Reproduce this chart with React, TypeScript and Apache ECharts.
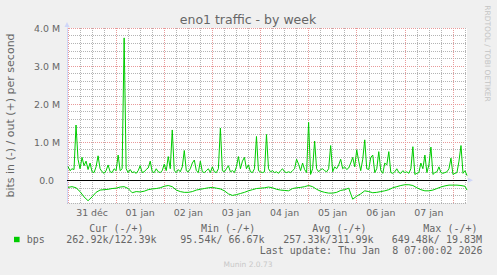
import React, { useEffect, useRef } from "react";
import * as echarts from "echarts";

// Day labels shown at noon of each day
const DAY_LABELS = ["31 déc", "01 jan", "02 jan", "03 jan", "04 jan", "05 jan", "06 jan", "07 jan"];

// Out (+) traffic in Mbit/s, hourly samples from 31 déc 00:00 to 08 jan 07:00
const OUT_MBPS = [
  0.36, 0.25, 0.3, 0.28, 1.45, 0.55, 0.3, 0.6, 0.38, 0.5,
  0.28, 0.45, 0.22, 0.2, 0.35, 0.64, 0.3, 0.22, 0.18, 0.25,
  0.4, 0.22, 0.2, 0.3, 0.25, 0.66, 0.25, 0.3, 3.74, 0.3,
  0.2, 0.28, 0.2, 0.22, 0.18, 0.25, 0.38, 0.2, 0.22, 0.28,
  0.32, 0.5, 0.22, 0.2, 0.3, 0.22, 0.2, 0.25, 0.42, 0.25,
  0.62, 0.3, 1.32, 0.25, 0.2, 0.28, 0.22, 0.35, 0.78, 0.25,
  0.22, 0.3, 0.45, 0.53, 0.25, 0.2, 0.5, 0.22, 0.2, 0.25,
  0.3, 0.2, 0.35, 0.22, 0.2, 0.3, 1.37, 0.25, 0.22, 0.3,
  0.38, 0.22, 0.25, 0.2, 0.35, 0.62, 0.3, 0.5, 0.6, 0.3,
  0.4, 0.22, 0.2, 0.3, 1.15, 0.25, 0.22, 0.2, 0.22, 1.2,
  0.3, 0.22, 0.25, 0.2, 0.22, 0.18, 0.25, 0.3, 0.22, 0.2,
  0.22, 0.2, 0.25, 0.3, 0.55, 0.42, 0.25, 0.45, 0.28, 0.2,
  1.52, 0.15, 0.3, 1.03, 0.3, 0.22, 0.28, 0.3, 0.25, 0.22,
  0.3, 0.91, 0.22, 0.35, 0.3, 0.4, 0.55, 0.3, 0.35, 0.28,
  0.32, 0.45, 0.6, 0.35, 0.8, 0.5, 0.25, 0.55, 1.06, 0.3,
  0.28, 0.6, 0.66, 0.2, 0.3, 0.75, 0.25, 0.18, 0.45, 0.4,
  0.75, 0.2, 0.18, 0.22, 0.3, 0.2, 0.18, 0.25, 0.2, 0.22,
  0.18, 0.3, 0.88, 0.15, 0.18, 0.2, 0.45, 0.3, 0.66, 0.2,
  0.4, 0.87, 0.15, 0.2, 0.22, 0.35, 0.2, 0.18, 0.2, 0.22,
  0.3, 0.58, 0.15, 0.18, 0.2, 0.5, 0.91, 0.18, 0.25, 0.12,
];

// In (-) traffic in Mbit/s, every 2 hours from 31 déc 00:00
const IN_MBPS = [
  0.19, 0.17, 0.2, 0.3, 0.44, 0.54, 0.44, 0.32, 0.26, 0.25,
  0.24, 0.22, 0.21, 0.18, 0.17, 0.22, 0.33, 0.3, 0.31, 0.29,
  0.25, 0.23, 0.22, 0.2, 0.16, 0.14, 0.17, 0.26, 0.3, 0.32,
  0.32, 0.3, 0.26, 0.24, 0.22, 0.2, 0.19, 0.21, 0.23, 0.28,
  0.36, 0.4, 0.38, 0.35, 0.32, 0.28, 0.25, 0.22, 0.21, 0.2,
  0.18, 0.2, 0.24, 0.26, 0.27, 0.28, 0.22, 0.2, 0.19, 0.17,
  0.14, 0.17, 0.24, 0.29, 0.32, 0.34, 0.34, 0.32, 0.27, 0.25,
  0.21, 0.5, 0.42, 0.36, 0.28, 0.3, 0.33, 0.32, 0.3, 0.28,
  0.25, 0.2, 0.17, 0.14, 0.12, 0.12, 0.14, 0.2, 0.25, 0.28,
  0.28, 0.26, 0.22, 0.18, 0.15, 0.13, 0.13, 0.13, 0.14, 0.16,
];
const IN_LAST_MBPS = 0.26; // 08 jan 07:00

const LEGEND_HEADERS = ["Cur (-/+)", "Min (-/+)", "Avg (-/+)", "Max (-/+)"];
const LEGEND_VALUES = ["262.92k/122.39k", "95.54k/ 66.67k", "257.33k/311.99k", "649.48k/ 19.83M"];
const LAST_UPDATE = "Last update: Thu Jan \u00a08 07:00:02 2026";

const HEADER_X = [89.3, 201, 312.3, 423.3];
const VALUE_X = [66.3, 180.3, 283.3, 391.7];

const N_SLOTS = 400; // 30-minute slots from 30 déc 23:30 to 08 jan 07:00

const FONT_COLOR = "#666666";
const AXIS_COLOR = "#CFD6F8";
const GRID_MINOR = "#b4b4b4";
const GRID_MAJOR = "#e89a9a";
const SANS = '"DejaVu Sans", sans-serif';
const MONO = '"DejaVu Sans Mono", monospace';

export default function App() {
  const ref = useRef<HTMLDivElement>(null);
  useEffect(() => {
    if (!ref.current) return;
    const chart = echarts.init(ref.current, undefined, { renderer: "svg" });
    const categories = Array.from({ length: N_SLOTS }, (_, i) => "s" + i);
    const outData: (number | null)[] = new Array(N_SLOTS).fill(null);
    OUT_MBPS.forEach((v, k) => (outData[1 + 2 * k] = v));
    const inData: (number | null)[] = new Array(N_SLOTS).fill(null);
    IN_MBPS.forEach((v, j) => (inData[1 + 4 * j] = -v));
    inData[N_SLOTS - 1] = -IN_LAST_MBPS;

    const legendTexts: any[] = [];
    LEGEND_HEADERS.forEach((t, i) =>
      legendTexts.push({
        type: "text", x: HEADER_X[i], y: 228,
        style: { text: t, fill: FONT_COLOR, font: "10px " + MONO, align: "left", verticalAlign: "middle" },
      })
    );
    LEGEND_VALUES.forEach((t, i) =>
      legendTexts.push({
        type: "text", x: VALUE_X[i], y: 239.6,
        style: { text: t, fill: FONT_COLOR, font: "10px " + MONO, align: "left", verticalAlign: "middle" },
      })
    );

    chart.setOption({
      animation: false,
      backgroundColor: "#F0F0F0",
      grid: {
        left: 67, right: 30, top: 28, bottom: 72,
        show: true, backgroundColor: "#ffffff", borderWidth: 0,
      },
      xAxis: {
        type: "category",
        data: categories,
        boundaryGap: false,
        axisLine: {
          show: true,
          lineStyle: { color: AXIS_COLOR, width: 1 },
          symbol: ["none", "triangle"],
          symbolSize: [5, 5],
          symbolOffset: [0, 3.5],
        },
        axisTick: { show: false },
        axisLabel: {
          interval: (i: number) => i >= 25 && (i - 25) % 48 === 0,
          formatter: (_v: string, i: number) => DAY_LABELS[(i - 25) / 48] ?? "",
          color: FONT_COLOR,
          fontFamily: SANS,
          fontSize: 9.4,
          margin: 5,
        },
        splitLine: {
          show: true,
          interval: (i: number) => i >= 1 && (i - 1) % 12 === 0,
          lineStyle: { color: [GRID_MAJOR, GRID_MINOR, GRID_MINOR, GRID_MINOR], type: [1, 1], width: 1 },
        },
      },
      yAxis: {
        type: "value",
        min: -0.6,
        max: 4,
        interval: 0.2,
        axisLine: {
          show: true,
          lineStyle: { color: AXIS_COLOR, width: 1 },
          symbol: ["none", "triangle"],
          symbolSize: [5, 5],
          symbolOffset: [0, 3.5],
        },
        axisTick: { show: false },
        axisLabel: {
          formatter: (v: number) => {
            const r = Math.round(v);
            if (Math.abs(v - r) > 1e-6) return "";
            return r === 0 ? "0.0\u00a0\u00a0" : r.toFixed(1) + " M";
          },
          color: FONT_COLOR,
          fontFamily: SANS,
          fontSize: 9.4,
          margin: 7,
        },
        splitLine: {
          show: true,
          lineStyle: {
            color: [GRID_MINOR, GRID_MINOR, GRID_MINOR, GRID_MAJOR, GRID_MINOR],
            type: [1, 1],
            width: 1,
          },
        },
      },
      series: [
        {
          name: "out",
          type: "line",
          data: outData,
          connectNulls: true,
          showSymbol: false,
          symbol: "none",
          lineStyle: { color: "#00CC00", width: 1 },
          itemStyle: { color: "#00CC00" },
          z: 3,
          markLine: {
            silent: true,
            symbol: ["none", "none"],
            label: { show: false },
            lineStyle: { color: "#000000", type: "solid", width: 1.2 },
            data: [{ yAxis: 0 }],
            animation: false,
          },
        },
        {
          name: "in",
          type: "line",
          data: inData,
          connectNulls: true,
          showSymbol: false,
          symbol: "none",
          lineStyle: { color: "#00CC00", width: 1 },
          itemStyle: { color: "#00CC00" },
          z: 3,
        },
      ],
      graphic: [
        {
          type: "text", x: 248, y: 19.5,
          style: { text: "eno1 traffic - by week", fill: FONT_COLOR, font: "12.5px " + SANS, align: "center", verticalAlign: "middle" },
        },
        {
          type: "text", x: 10.5, y: 115.5, rotation: Math.PI / 2,
          style: { text: "bits in (-) / out (+) per second", fill: FONT_COLOR, font: "11px " + SANS, align: "center", verticalAlign: "middle" },
        },
        {
          type: "text", x: 487.5, y: 53.5, rotation: -Math.PI / 2,
          style: { text: "RRDTOOL / TOBI OETIKER", fill: "#c4c4c4", font: "7.5px " + SANS, align: "center", verticalAlign: "middle" },
        },
        {
          type: "text", x: 248, y: 264,
          style: { text: "Munin 2.0.73", fill: "#c8c8c8", font: "7.5px " + SANS, align: "center", verticalAlign: "middle" },
        },
        {
          type: "rect", shape: { x: 14, y: 236.8, width: 5.6, height: 5.4 },
          style: { fill: "#00CC00" },
        },
        {
          type: "text", x: 26.7, y: 239.6,
          style: { text: "bps", fill: FONT_COLOR, font: "10px " + MONO, align: "left", verticalAlign: "middle" },
        },
        ...legendTexts,
        {
          type: "text", x: 482.5, y: 250.8,
          style: { text: LAST_UPDATE, fill: FONT_COLOR, font: "10px " + MONO, align: "right", verticalAlign: "middle" },
        },
      ],
    });
    return () => chart.dispose();
  }, []);
  return (
    <div
      ref={ref}
      style={{ position: "fixed", left: 0, top: 0, width: 497, height: 275 }}
    />
  );
}
